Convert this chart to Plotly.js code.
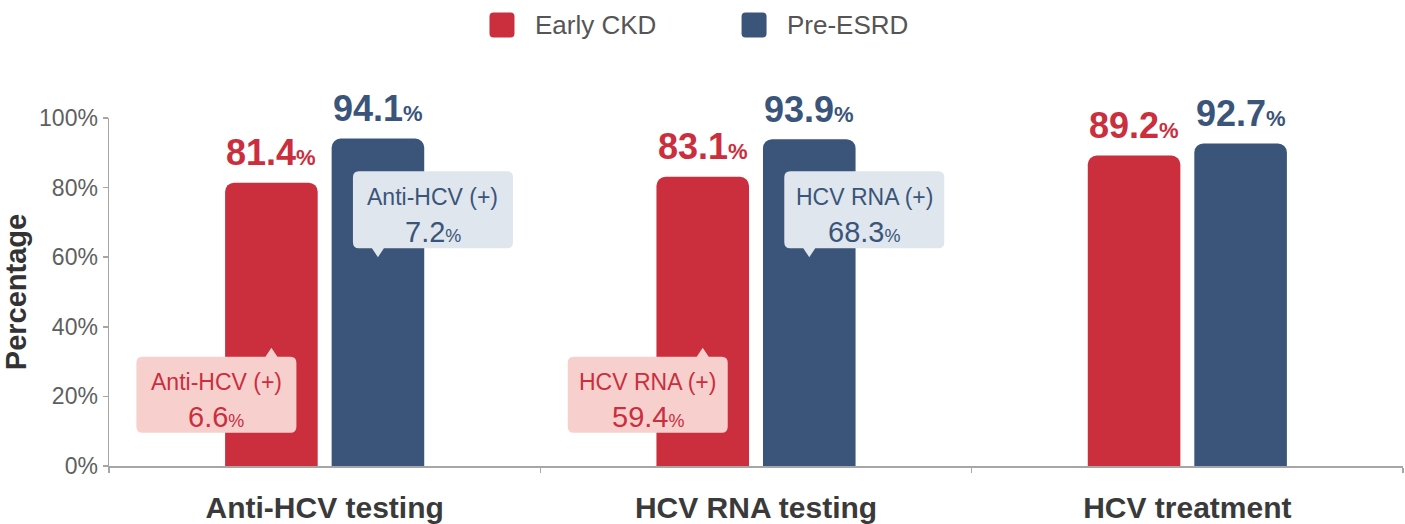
<!DOCTYPE html>
<html>
<head>
<meta charset="utf-8">
<script src="https://cdn.plot.ly/plotly-3.0.1.min.js"></script>
<style>
  html, body { margin: 0; padding: 0; background: #ffffff; }
  #chart { width: 1405px; height: 524px; }
</style>
</head>
<body>
<div id="chart"></div>
<script>
// Care-cascade steps and the two patient groups
const categories = ["Anti-HCV testing", "HCV RNA testing", "HCV treatment"];
const seriesNames = ["Early CKD", "Pre-ESRD"];
const earlyCkd = [81.4, 83.1, 89.2];
const preEsrd = [94.1, 93.9, 92.7];

// Positivity among those tested (first two steps only)
const positiveLabels = ["Anti-HCV (+)", "HCV RNA (+)"];
const positiveEarly = [6.6, 59.4];
const positivePre = [7.2, 68.3];

const RED = "#CB2E3D";
const BLUE = "#3A5579";
const RED_BG = "#F7D0CE";
const BLUE_BG = "#DFE6EE";
const FONT = "Liberation Sans, Arial, Helvetica, sans-serif";

const seriesColors = [RED, BLUE];
const seriesValues = [earlyCkd, preEsrd];
const barOffset = 0.1235; // half a bar slot, in category units

const traces = seriesNames.map((name, i) => ({
  type: "bar",
  name: name,
  x: categories,
  y: seriesValues[i],
  marker: { color: seriesColors[i], cornerradius: 9 },
  hoverinfo: "skip",
  showlegend: false
}));

const annotations = [];
const shapes = [];

// Value labels above each bar
seriesValues.forEach((vals, s) => {
  vals.forEach((v, c) => {
    annotations.push({
      xref: "x", yref: "y",
      x: c + (s === 0 ? -barOffset : barOffset),
      y: v,
      yshift: 30,
      yanchor: "middle",
      xanchor: "center",
      showarrow: false,
      text: "<b>" + v.toFixed(1) + "<span style=\"font-size:22px\">%</span></b>",
      font: { family: FONT, size: 36, color: seriesColors[s] }
    });
  });
});

// Callout bubbles with positivity rates
const lowTipY = 34;   // red bubble points up at this height
const highTipY = 60;  // blue bubble points down at this height

const redBubble = "M -129,-9 L -6,-9 L 0,0 L 6,-9 L 19,-9 Q 25,-9 25,-15 L 25,-79 Q 25,-85 19,-85 " +
  "L -129,-85 Q -135,-85 -135,-79 L -135,-15 Q -135,-9 -129,-9 Z";
const blueBubble = "M -19,9 L -6,9 L 0,0 L 6,9 L 129,9 Q 135,9 135,15 L 135,80 Q 135,86 129,86 " +
  "L -19,86 Q -25,86 -25,80 L -25,15 Q -25,9 -19,9 Z";

positiveLabels.forEach((label, c) => {
  const xr = c - barOffset;
  const xb = c + barOffset;
  shapes.push({
    type: "path", xref: "x", yref: "y",
    xsizemode: "pixel", ysizemode: "pixel",
    xanchor: xr, yanchor: lowTipY,
    path: redBubble, fillcolor: RED_BG, line: { width: 0 }, layer: "above"
  });
  shapes.push({
    type: "path", xref: "x", yref: "y",
    xsizemode: "pixel", ysizemode: "pixel",
    xanchor: xb, yanchor: highTipY,
    path: blueBubble, fillcolor: BLUE_BG, line: { width: 0 }, layer: "above"
  });
  annotations.push({
    xref: "x", yref: "y", x: xr, y: lowTipY, xshift: -55, yshift: -34,
    showarrow: false, xanchor: "center", yanchor: "middle",
    text: label, font: { family: FONT, size: 23, color: RED }
  });
  annotations.push({
    xref: "x", yref: "y", x: xr, y: lowTipY, xshift: -55, yshift: -69,
    showarrow: false, xanchor: "center", yanchor: "middle",
    text: positiveEarly[c].toFixed(1) + "<span style=\"font-size:18px\">%</span>",
    font: { family: FONT, size: 29, color: RED }
  });
  annotations.push({
    xref: "x", yref: "y", x: xb, y: highTipY, xshift: 55, yshift: 60,
    showarrow: false, xanchor: "center", yanchor: "middle",
    text: label, font: { family: FONT, size: 23, color: BLUE }
  });
  annotations.push({
    xref: "x", yref: "y", x: xb, y: highTipY, xshift: 55, yshift: 25,
    showarrow: false, xanchor: "center", yanchor: "middle",
    text: positivePre[c].toFixed(1) + "<span style=\"font-size:18px\">%</span>",
    font: { family: FONT, size: 29, color: BLUE }
  });
});

// Legend drawn at the top centre
const legendX = [0.3037, 0.4985];
const legendY = 1.267;
const swatch = "M -8.5,-12.5 L 8.5,-12.5 Q 12.5,-12.5 12.5,-8.5 L 12.5,8.5 Q 12.5,12.5 8.5,12.5 " +
  "L -8.5,12.5 Q -12.5,12.5 -12.5,8.5 L -12.5,-8.5 Q -12.5,-12.5 -8.5,-12.5 Z";
seriesNames.forEach((name, i) => {
  shapes.push({
    type: "path", xref: "paper", yref: "paper",
    xsizemode: "pixel", ysizemode: "pixel",
    xanchor: legendX[i], yanchor: legendY,
    path: swatch, fillcolor: seriesColors[i], line: { width: 0 }
  });
  annotations.push({
    xref: "paper", yref: "paper", x: legendX[i], y: legendY, xshift: 31,
    xanchor: "left", yanchor: "middle", showarrow: false,
    text: name, font: { family: FONT, size: 26, color: "#555555" }
  });
});

const layout = {
  width: 1405,
  height: 524,
  margin: { l: 109, r: 2, t: 118, b: 58 },
  paper_bgcolor: "#ffffff",
  plot_bgcolor: "#ffffff",
  barmode: "group",
  bargap: 0.506,
  bargroupgap: 0.131,
  showlegend: false,
  font: { family: FONT },
  xaxis: {
    type: "category",
    range: [-0.5, 2.5],
    showline: true,
    linecolor: "#a6a6a6",
    linewidth: 1.5,
    ticks: "outside",
    tickson: "boundaries",
    ticklen: 5,
    tickcolor: "#a6a6a6",
    tickwidth: 1.5,
    showgrid: false,
    zeroline: false,
    ticklabelstandoff: 14,
    tickfont: { family: FONT, size: 30, color: "#3a3a3a", weight: "bold" },
    fixedrange: true
  },
  yaxis: {
    range: [0, 100],
    dtick: 20,
    ticksuffix: "%",
    showline: true,
    linecolor: "#a6a6a6",
    linewidth: 1.5,
    ticks: "outside",
    ticklen: 5,
    tickcolor: "#a6a6a6",
    tickwidth: 1.5,
    showgrid: false,
    zeroline: false,
    tickfont: { family: FONT, size: 23, color: "#5f5f5f" },
    title: {
      text: "<b>Percentage</b>",
      font: { family: FONT, size: 29, color: "#333333" },
      standoff: 14
    },
    fixedrange: true
  },
  annotations: annotations,
  shapes: shapes
};

Plotly.newPlot("chart", traces, layout, { displayModeBar: false, staticPlot: true });
</script>
</body>
</html>
